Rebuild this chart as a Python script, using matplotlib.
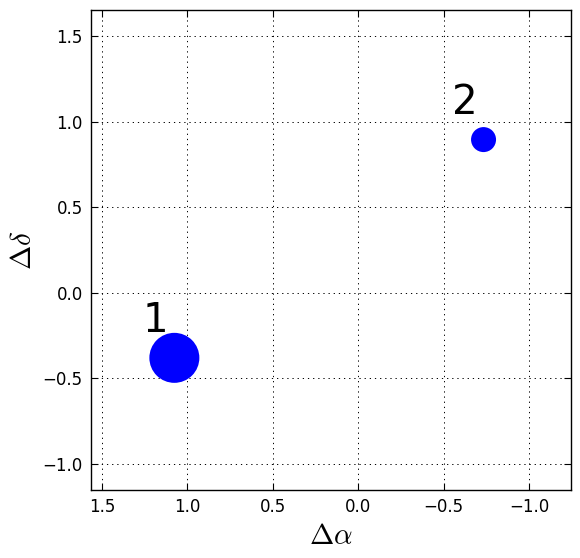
import numpy as np
import matplotlib
matplotlib.use("Agg")
import matplotlib.pyplot as plt

plt.rcParams["mathtext.fontset"] = "cm"

# source offsets (arcsec) and marker sizes
delta_alpha = [1.076, -0.734]
delta_dec = [-0.38, 0.895]
marker_sizes = [1296, 324]
source_labels = ["1", "2"]

# label offset relative to each source
label_dx = 0.185
label_dy = 0.15

fig = plt.figure(figsize=(5.8, 5.58), dpi=100)
ax = fig.add_axes([91 / 580, 68 / 558, 480 / 580, 480 / 558])

ax.scatter(delta_alpha, delta_dec, s=marker_sizes, c="blue", edgecolors="none", zorder=3)
for x, y, lab in zip(delta_alpha, delta_dec, source_labels):
    ax.text(x + label_dx, y + label_dy, lab, fontsize=29, ha="left", va="baseline")

ax.set_xlim(1.564, -1.246)
ax.set_ylim(-1.152, 1.652)
ax.set_xticks([1.5, 1.0, 0.5, 0.0, -0.5, -1.0])
ax.set_yticks([-1.0, -0.5, 0.0, 0.5, 1.0, 1.5])
ax.grid(True, color="black", linestyle=(0, (1.3, 4)), linewidth=0.7)
ax.tick_params(direction="in", top=True, right=True, length=5, labelsize=12, pad=6)
for sp in ax.spines.values():
    sp.set_linewidth(1.0)

ax.set_xlabel(r"$\Delta\alpha$", fontsize=21)
ax.set_ylabel(r"$\Delta\delta$", fontsize=21)

fig.savefig("out.png", dpi=100)
